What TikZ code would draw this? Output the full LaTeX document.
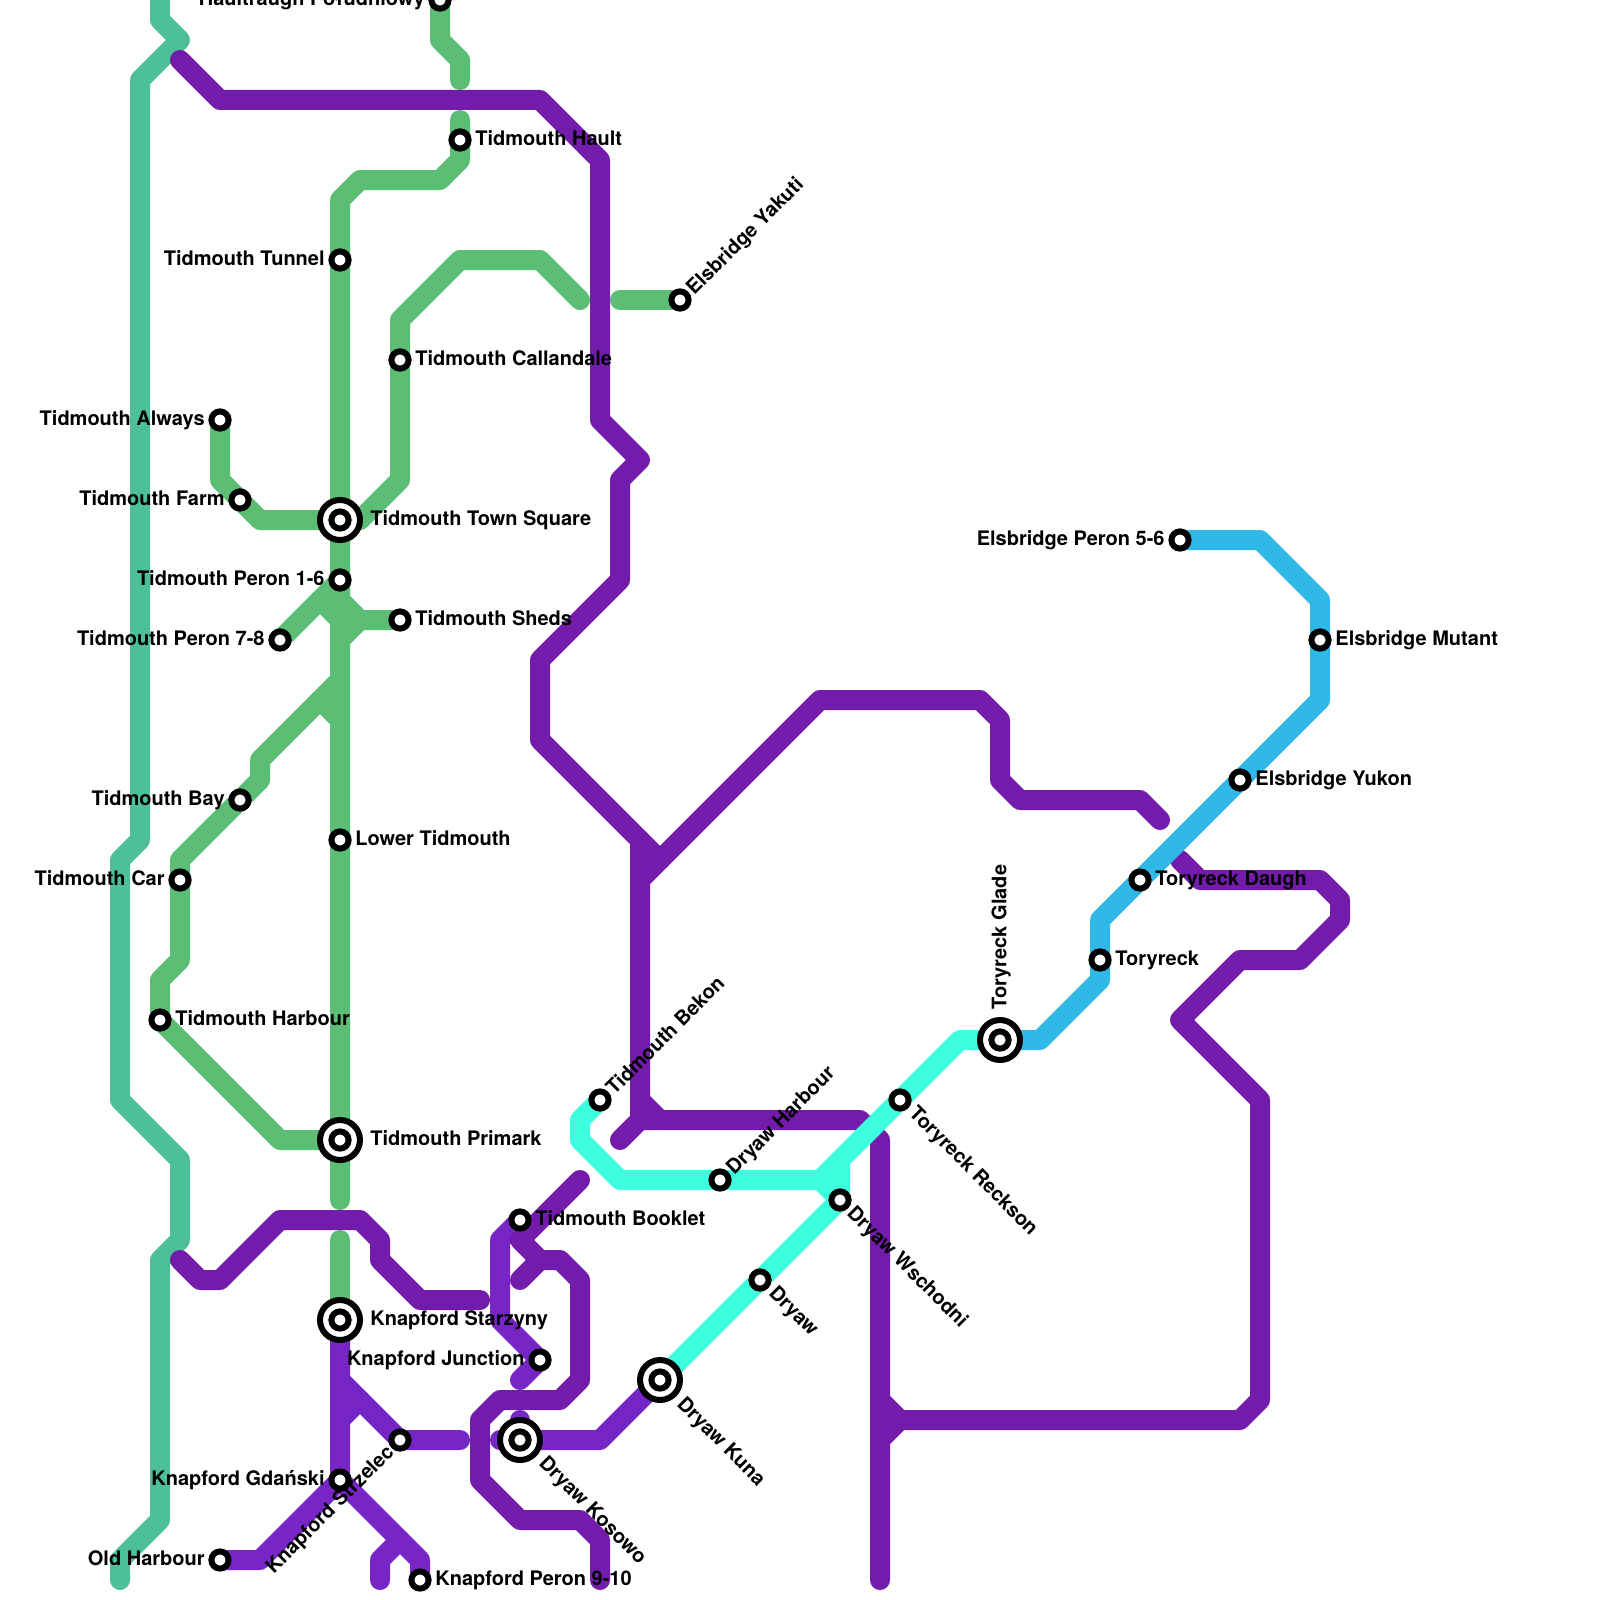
\documentclass[tikz,border=0pt]{standalone}
\usepackage{fontspec}
\setmainfont{TeX Gyre Heros}
\pgfdeclarelayer{top}
\pgfsetlayers{main,top}
\definecolor{cteal}{HTML}{4DBF99}
\definecolor{cgreen}{HTML}{5CBD75}
\definecolor{cpurple}{HTML}{731CAB}
\definecolor{clilac}{HTML}{7825C6}
\definecolor{ccyan}{HTML}{3DFFDF}
\definecolor{cblue}{HTML}{30B9E8}
\tikzset{
  metro/.style={line width=10pt,line join=round,line cap=round},
  smallst/.style={circle,draw=black,fill=white,line width=3pt,minimum size=8.6pt,inner sep=0pt},
  bigst/.style={circle,draw=black,fill=white,line width=3pt,minimum size=20pt,inner sep=0pt},
  lab/.style={inner sep=0pt,text=black,text height=7.3pt,text depth=0pt,font=\bfseries\fontsize{10}{11}\selectfont}
}
% #1 name, #2 position
\newcommand{\sst}[2]{\node[smallst] (#1) at (#2) {};}
\newcommand{\bst}[2]{\node[bigst] (#1) at (#2) {};\node[smallst] (#1-in) at (#2) {};}
% #1 name, #2 rotation, #3 anchor, #4 position, #5 text
\newcommand{\lbl}[5]{\node[lab,rotate=#2,anchor=#3] (#1) at (#4) {#5};}
\begin{document}
\begin{tikzpicture}[x=0.5pt,y=-0.5pt]
\useasboundingbox (0,0) rectangle (1600,1600);
\fill[white] (0,0) rectangle (1600,1600);
\clip (0,0) rectangle (1600,1600);
\begin{pgfonlayer}{top}
% stations
\sst{hault}{440,0}
\sst{thault}{460,140}
\sst{ttunnel}{340,260}
\sst{callan}{400,360}
\sst{always}{220,420}
\sst{farm}{240,500}
\bst{town}{340,520}
\sst{peron16}{340,580}
\sst{sheds}{400,620}
\sst{peron78}{280,640}
\sst{bay}{240,800}
\sst{lower}{340,840}
\sst{car}{180,880}
\sst{harbour}{160,1020}
\bst{primark}{340,1140}
\bst{starz}{340,1320}
\sst{junction}{540,1360}
\sst{booklet}{520,1220}
\sst{strzelec}{400,1440}
\sst{gdan}{340,1480}
\sst{old}{220,1560}
\sst{peron910}{420,1580}
\bst{kosowo}{520,1440}
\bst{kuna}{660,1380}
\sst{dryaw}{760,1280}
\sst{wsch}{840,1200}
\sst{dharb}{720,1180}
\sst{bekon}{600,1100}
\sst{reckson}{900,1100}
\bst{glade}{1000,1040}
\sst{toryreck}{1100,960}
\sst{daugh}{1140,880}
\sst{yukon}{1240,780}
\sst{mutant}{1320,640}
\sst{peron56}{1180,540}
\sst{yakuti}{680,300}
% labels
\lbl{l-hault}{0}{east}{425,-2}{Haultraugh Południowy}
\lbl{l-thault}{0}{west}{475,138}{Tidmouth Hault}
\lbl{l-ttunnel}{0}{east}{325,258}{Tidmouth Tunnel}
\lbl{l-callan}{0}{west}{415,358}{Tidmouth Callandale}
\lbl{l-always}{0}{east}{205,418}{Tidmouth Always}
\lbl{l-farm}{0}{east}{225,498}{Tidmouth Farm}
\lbl{l-town}{0}{west}{370,518}{Tidmouth Town Square}
\lbl{l-peron16}{0}{east}{325,578}{Tidmouth Peron 1-6}
\lbl{l-sheds}{0}{west}{415,618}{Tidmouth Sheds}
\lbl{l-peron78}{0}{east}{265,638}{Tidmouth Peron 7-8}
\lbl{l-bay}{0}{east}{225,798}{Tidmouth Bay}
\lbl{l-lower}{0}{west}{355,838}{Lower Tidmouth}
\lbl{l-car}{0}{east}{165,878}{Tidmouth Car}
\lbl{l-harbour}{0}{west}{175,1018}{Tidmouth Harbour}
\lbl{l-primark}{0}{west}{370,1138}{Tidmouth Primark}
\lbl{l-starz}{0}{west}{370,1318}{Knapford Starzyny}
\lbl{l-junction}{0}{east}{525,1358}{Knapford Junction}
\lbl{l-booklet}{0}{west}{535,1218}{Tidmouth Booklet}
\lbl{l-strzelec}{45}{east}{390,1448}{Knapford Strzelec}
\lbl{l-gdan}{0}{east}{325,1478}{Knapford Gdański}
\lbl{l-old}{0}{east}{205,1558}{Old Harbour}
\lbl{l-peron910}{0}{west}{435,1578}{Knapford Peron 9-10}
\lbl{l-kosowo}{-45}{west}{543,1459}{Dryaw Kosowo}
\lbl{l-kuna}{-45}{west}{681,1400}{Dryaw Kuna}
\lbl{l-dryaw}{-45}{west}{773,1289}{Dryaw}
\lbl{l-wsch}{-45}{west}{851,1209}{Dryaw Wschodni}
\lbl{l-dharb}{45}{west}{729,1171}{Dryaw Harbour}
\lbl{l-bekon}{45}{west}{609,1091}{Tidmouth Bekon}
\lbl{l-reckson}{-45}{west}{913,1109}{Toryreck Reckson}
\lbl{l-glade}{90}{west}{999,1010}{Toryreck Glade}
\lbl{l-toryreck}{0}{west}{1115,958}{Toryreck}
\lbl{l-daugh}{0}{west}{1155,878}{Toryreck Daugh}
\lbl{l-yukon}{0}{west}{1255,778}{Elsbridge Yukon}
\lbl{l-mutant}{0}{west}{1335,638}{Elsbridge Mutant}
\lbl{l-peron56}{0}{east}{1165,538}{Elsbridge Peron 5-6}
\lbl{l-yakuti}{45}{west}{689,291}{Elsbridge Yakuti}
\end{pgfonlayer}
% teal
\draw[metro,cteal] (160,-20) -- (160,20) -- (180,40) -- (140,80) -- (140,840) -- (120,860) -- (120,1100) -- (180,1160) -- (180,1240) -- (160,1260) -- (160,1520) -- (120,1560) -- (120,1580);
% green
\draw[metro,cgreen] (hault.center) -- (440,40) -- (460,60) -- (460,80);
\draw[metro,cgreen] (460,120) -- (thault.center) -- (460,160) -- (440,180) -- (360,180) -- (340,200) -- (ttunnel.center) -- (town.center) -- (peron16.center) -- (lower.center) -- (primark.center) -- (340,1200);
\draw[metro,cgreen] (340,1240) -- (starz.center);
\draw[metro,cgreen] (580,300) -- (540,260) -- (460,260) -- (400,320) -- (callan.center) -- (400,480) -- (360,520) -- (town.center);
\draw[metro,cgreen] (620,300) -- (yakuti.center);
\draw[metro,cgreen] (always.center) -- (220,480) -- (farm.center) -- (260,520) -- (town.center);
\draw[metro,cgreen] (peron78.center) -- (340,580);
\draw[metro,cgreen] (320,600) -- (340,620);
\draw[metro,cgreen] (340,600) -- (360,620) -- (sheds.center);
\draw[metro,cgreen] (340,640) -- (360,620);
\draw[metro,cgreen] (340,680) -- (260,760) -- (260,780) -- (bay.center) -- (180,860) -- (car.center) -- (180,960) -- (160,980) -- (harbour.center) -- (280,1140) -- (primark.center);
\draw[metro,cgreen] (320,700) -- (340,720);
% lilac
\draw[metro,clilac] (starz.center) -- (gdan.center) -- (260,1560) -- (old.center);
\draw[metro,clilac] (340,1380) -- (strzelec.center) -- (460,1440);
\draw[metro,clilac] (340,1420) -- (360,1400);
\draw[metro,clilac] (gdan.center) -- (420,1560) -- (peron910.center);
\draw[metro,clilac] (400,1540) -- (380,1560) -- (380,1580);
\draw[metro,clilac] (booklet.center) -- (500,1240) -- (500,1320) -- (junction.center) -- (520,1380);
\draw[metro,clilac] (500,1440) -- (kosowo.center) -- (600,1440) -- (kuna.center);
\draw[metro,clilac] (520,1420) -- (kosowo.center);
% purple
\draw[metro,cpurple] (180,60) -- (220,100) -- (540,100) -- (600,160) -- (600,420) -- (640,460) -- (620,480) -- (620,580) -- (540,660) -- (540,740) -- (640,840) -- (640,1120) -- (860,1120) -- (880,1140) -- (880,1580);
\draw[metro,cpurple] (640,840) -- (660,860);
\draw[metro,cpurple] (640,1100) -- (660,1120);
\draw[metro,cpurple] (620,1140) -- (640,1120);
\draw[metro,cpurple] (640,880) -- (820,700) -- (980,700) -- (1000,720) -- (1000,780) -- (1020,800) -- (1140,800) -- (1160,820);
\draw[metro,cpurple] (1180,860) -- (1200,880) -- (1320,880) -- (1340,900) -- (1340,920) -- (1300,960) -- (1240,960) -- (1180,1020) -- (1260,1100) -- (1260,1400) -- (1240,1420) -- (900,1420) -- (880,1400);
\draw[metro,cpurple] (900,1420) -- (880,1440);
\draw[metro,cpurple] (180,1260) -- (200,1280) -- (220,1280) -- (280,1220) -- (360,1220) -- (380,1240) -- (380,1260) -- (420,1300) -- (480,1300);
\draw[metro,cpurple] (580,1180) -- (520,1240) -- (540,1260) -- (560,1260) -- (580,1280) -- (580,1380) -- (560,1400) -- (500,1400) -- (480,1420) -- (480,1480) -- (520,1520) -- (580,1520) -- (600,1540) -- (600,1580);
\draw[metro,cpurple] (520,1280) -- (540,1260);
% cyan
\draw[metro,ccyan] (bekon.center) -- (580,1120) -- (580,1140) -- (620,1180) -- (dharb.center) -- (820,1180) -- (reckson.center) -- (960,1040) -- (glade.center);
\draw[metro,ccyan] (820,1180) -- (wsch.center);
\draw[metro,ccyan] (840,1160) -- (wsch.center) -- (dryaw.center) -- (kuna.center);
% blue
\draw[metro,cblue] (glade.center) -- (1040,1040) -- (1100,980) -- (toryreck.center) -- (1100,920) -- (daugh.center) -- (yukon.center) -- (1320,700) -- (mutant.center) -- (1320,600) -- (1260,540) -- (peron56.center);
\end{tikzpicture}
\end{document}
